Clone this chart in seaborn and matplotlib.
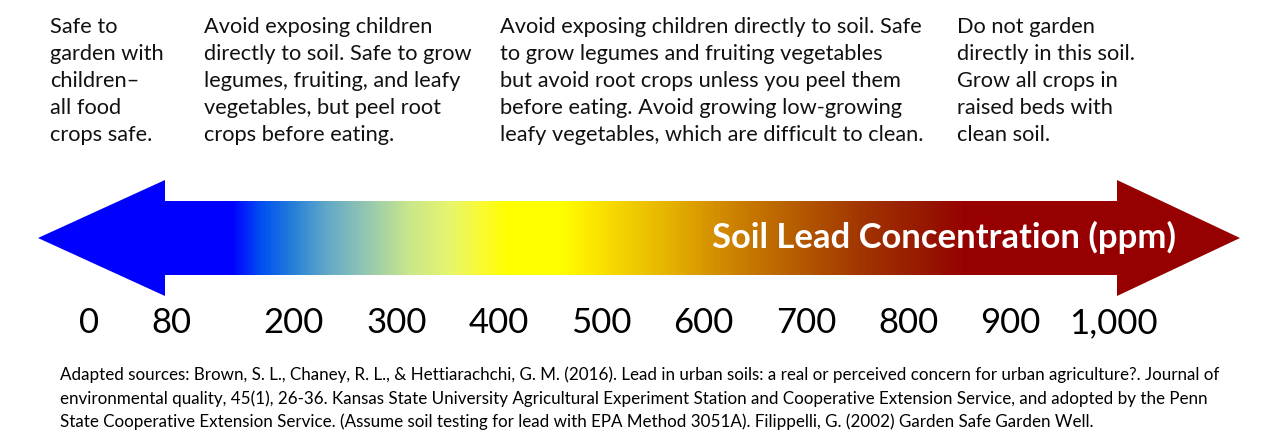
import matplotlib
matplotlib.use("Agg")
import matplotlib.pyplot as plt
import seaborn as sns
import numpy as np
from matplotlib.colors import LinearSegmentedColormap, Normalize
from matplotlib.patches import Polygon

# soil lead scale (ppm) and the labels under the arrow
tick_ppm = [0, 80, 200, 300, 400, 500, 600, 700, 800, 900, 1000]
tick_labels = ["0", "80", "200", "300", "400", "500", "600", "700", "800", "900", "1,000"]

# colour ramp along the scale: blue (safe) -> yellow -> dark red
ramp_ppm = [138, 167, 199, 232, 271, 310, 350, 382, 408, 460, 499, 564, 629, 694, 760, 824, 857]
ramp_colors = ["#0000ff", "#0050f0", "#2882d7", "#64aac8", "#96c8af", "#c8e68c",
               "#e6f56e", "#fafa32", "#ffff00", "#ffff00", "#fae100", "#e6b400",
               "#cd8200", "#b45a00", "#a03200", "#961400", "#960000"]

advice = [
    ["Safe to", "garden with", "children\u2013", "all food", "crops safe."],
    ["Avoid exposing children", "directly to soil. Safe to grow",
     "legumes, fruiting, and leafy", "vegetables, but peel root", "crops before eating."],
    ["Avoid exposing children directly to soil. Safe",
     "to grow legumes and fruiting vegetables",
     "but avoid root crops unless you peel them",
     "before eating. Avoid growing low-growing",
     "leafy vegetables, which are difficult to clean."],
    ["Do not garden", "directly in this soil.", "Grow all crops in",
     "raised beds with", "clean soil."],
]

source = [
    "Adapted sources: Brown, S. L., Chaney, R. L., & Hettiarachchi, G. M. (2016). Lead in urban soils: "
    "a real or perceived concern for urban agriculture?. Journal of",
    "environmental quality, 45(1), 26-36. Kansas State University Agricultural Experiment Station "
    "and Cooperative Extension Service, and adopted by the Penn",
    "State Cooperative Extension Service. (Assume soil testing for lead with EPA Method 3051A). "
    "Filippelli, G. (2002) Garden Safe Garden Well.",
]
title = "Soil Lead Concentration (ppm)"

sns.set_style("white")
plt.rcParams['font.family'] = ['Lato', 'DejaVu Sans']

W, H = 1275, 436
XMIN, XMAX = -87, 1158          # ppm range covered by the figure width


def px(p):
    # horizontal pixel -> ppm
    return XMIN + p * (XMAX - XMIN) / W


fig = plt.figure(figsize=(W / 100, H / 100), dpi=100)
ax = fig.add_axes([0, 0, 1, 1])

# double headed arrow
head_l, head_r = px(165), px(1117)
tip_l, tip_r = px(38), px(1240)
arrow_pts = [(tip_l, 238), (head_l, 180), (head_l, 201), (head_r, 201), (head_r, 180),
             (tip_r, 238), (head_r, 296), (head_r, 275), (head_l, 275), (head_l, 296)]
arrow = Polygon(arrow_pts, closed=True, facecolor='none', edgecolor='none')
ax.add_patch(arrow)

pos = (np.array(ramp_ppm) - ramp_ppm[0]) / (ramp_ppm[-1] - ramp_ppm[0])
cmap = LinearSegmentedColormap.from_list("lead", list(zip(pos, ramp_colors)))
norm = Normalize(ramp_ppm[0], ramp_ppm[-1], clip=True)
xs = np.linspace(tip_l - 5, tip_r + 5, 1400)
im = ax.imshow(norm(xs)[None, :], cmap=cmap, vmin=0, vmax=1, aspect='auto',
               extent=(tip_l - 5, tip_r + 5, 300, 176), interpolation='bilinear')
im.set_clip_path(arrow)

ax.set_xlim(XMIN, XMAX)
ax.set_ylim(H, 0)
ax.axis('off')

renderer = fig.canvas.get_renderer()


def widest(texts):
    return max(t.get_window_extent(renderer).width for t in texts)


# advice blocks above the arrow
block_x = [50, 204, 500, 957]
block_w = [116, 263, 425, 178]
blocks = []
for bx, lines in zip(block_x, advice):
    ts = [ax.text(px(bx), 33 + i * 27, ln, fontsize=16, va='baseline', ha='left',
                  color='#111111') for i, ln in enumerate(lines)]
    blocks.append(ts)
scale = np.median([bw / widest(ts) for bw, ts in zip(block_w, blocks)])
for ts in blocks:
    for t in ts:
        t.set_fontsize(16 * scale)

# title inside the arrow
tt = ax.text(px(944), 248, title, color='white', fontweight='bold', fontsize=22,
             ha='center', va='baseline')
tt.set_fontsize(22 * 463 / widest([tt]))

# scale labels
for v, lab in zip(tick_ppm, tick_labels):
    ax.text(v, 333, lab, fontsize=25, ha='center', va='baseline', color='black')

# sources
st = [ax.text(px(60), 380 + i * 23.5, ln, fontsize=12, ha='left', va='baseline',
              color='black') for i, ln in enumerate(source)]
s = 12 * 1157 / widest(st)
for t in st:
    t.set_fontsize(s)

fig.savefig("out.png", dpi=100, facecolor='white')
